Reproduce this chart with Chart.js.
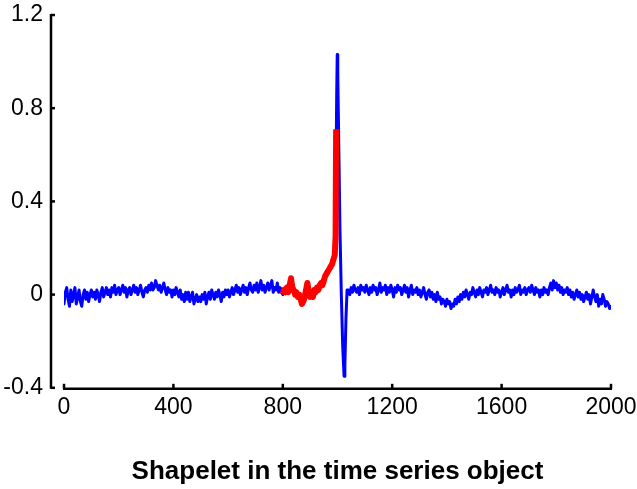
<!DOCTYPE html>
<html>
<head>
<meta charset="utf-8">
<script src="https://cdn.jsdelivr.net/npm/chart.js@4/dist/chart.umd.min.js"></script>
<style>
  html, body { margin: 0; padding: 0; background: #fff; }
  #wrap { width: 637px; height: 489px; }
</style>
</head>
<body>
<div id="wrap"><canvas id="c" width="637" height="489"></canvas></div>
<script>
// Time series: samples every 5 steps from 0 to 980
const headValues = [
  -0.04, 0.01, 0.03, -0.02, -0.05, 0.02, -0.03, 0.00, 0.03, -0.04,
  -0.01, 0.02, -0.03, -0.05, 0.00, 0.02, -0.02, 0.01, -0.03, 0.00,
  0.02, -0.01, 0.01, -0.02, 0.02, 0.00, -0.03, 0.01, 0.03, -0.01,
  0.01, 0.03, 0.00, 0.02, -0.01, 0.03, 0.01, 0.04, 0.00, 0.02,
  0.03, 0.00, 0.02, 0.04, 0.01, 0.03, -0.01, 0.02, 0.03, 0.00,
  0.02, 0.04, 0.01, 0.03, 0.00, 0.02, 0.04, 0.01, -0.01, 0.02,
  0.03, 0.01, 0.04, 0.02, 0.05, 0.02, 0.03, 0.06, 0.04, 0.02,
  0.04, 0.01, 0.03, 0.05, 0.02, 0.00, 0.03, 0.01, 0.02, -0.01,
  0.02, 0.00, 0.03, 0.01, -0.01, 0.02, -0.02, 0.00, -0.03, 0.01,
  -0.02, 0.01, -0.03, -0.01, 0.01, -0.04, -0.02, 0.00, -0.03, -0.01,
  -0.03, 0.00, -0.02, 0.01, -0.04, -0.01, 0.01, -0.02, 0.02, 0.00,
  -0.02, 0.01, -0.01, 0.02, 0.00, -0.03, 0.01, -0.01, 0.02, 0.00,
  0.02, -0.01, 0.01, 0.03, 0.00, 0.02, 0.04, 0.01, 0.03, 0.00,
  0.02, 0.04, 0.01, 0.03, 0.00, 0.03, 0.05, 0.02, 0.01, 0.04,
  0.02, 0.05, 0.01, 0.03, 0.06, 0.02, 0.04, 0.01, 0.03, 0.05,
  0.02, 0.04, 0.06, 0.01, 0.03, 0.02, 0.05, 0.01, 0.03, 0.02,
  0.00, 0.02, 0.01, 0.03, 0.01, 0.04, 0.06, 0.03, 0.02, 0.00,
  0.01, -0.01, 0.00, -0.02, -0.04, -0.03, -0.01, 0.02, 0.04, 0.01,
  -0.01, 0.00, -0.01, 0.02, 0.01, 0.03, 0.02, 0.04, 0.05, 0.04,
  0.06, 0.08, 0.09, 0.10, 0.11, 0.12, 0.13
];
// The sharp peak and dip around t = 1000
const spikeTimes  = [985, 990, 994, 997, 999, 1001, 1004, 1009, 1014, 1019, 1024, 1027, 1031, 1035];
const spikeValues = [0.15, 0.19, 0.45, 0.85, 1.03, 0.95, 0.70, 0.28, 0.00, -0.22, -0.35, -0.30, -0.10, 0.02];
// Samples every 5 steps from 1040 to 2000
const tailValues = [
  0.02, 0.00, 0.03, 0.01, 0.04, 0.02, 0.01, 0.03, 0.00, 0.04,
  0.02, 0.03, 0.01, 0.04, 0.02, 0.00, 0.03, 0.01, 0.04, 0.02,
  0.03, 0.00, 0.02, 0.05, 0.01, 0.03, 0.02, 0.04, 0.00, 0.03,
  0.01, 0.04, 0.02, -0.01, 0.03, 0.01, 0.04, 0.02, 0.03, 0.00,
  0.02, 0.04, 0.01, 0.03, -0.01, 0.02, 0.04, 0.00, 0.02, 0.01,
  0.03, 0.00, 0.02, -0.01, 0.01, 0.03, 0.00, -0.02, 0.01, 0.02,
  -0.01, 0.01, -0.02, 0.00, -0.03, 0.01, -0.02, -0.01, -0.04, -0.02,
  -0.03, -0.05, -0.02, -0.04, -0.03, -0.06, -0.04, -0.05, -0.02, -0.04,
  -0.01, -0.03, 0.00, -0.02, 0.01, -0.01, 0.02, 0.00, -0.02, 0.01,
  0.00, 0.03, 0.01, -0.01, 0.02, 0.00, 0.03, 0.01, -0.01, 0.02,
  0.01, 0.03, 0.00, 0.02, 0.04, 0.01, 0.02, 0.00, 0.03, 0.01,
  0.02, -0.01, 0.01, 0.03, 0.00, 0.02, 0.04, 0.01, 0.02, -0.01,
  0.02, 0.00, 0.03, 0.01, 0.02, 0.04, 0.00, 0.02, 0.01, 0.03,
  0.00, 0.02, 0.03, 0.01, 0.04, 0.02, 0.00, 0.03, 0.01, 0.02,
  -0.01, 0.02, 0.00, 0.03, 0.01, 0.02, 0.00, 0.03, 0.05, 0.02,
  0.06, 0.03, 0.05, 0.02, 0.04, 0.01, 0.03, 0.00, 0.02, 0.01,
  0.03, 0.00, 0.02, -0.01, 0.01, -0.02, 0.00, 0.02, -0.01, 0.01,
  -0.02, 0.00, -0.03, -0.01, 0.01, -0.02, 0.00, -0.04, -0.01, 0.02,
  -0.01, -0.03, 0.00, -0.05, -0.02, -0.04, 0.00, -0.02, -0.05, -0.03,
  -0.04, -0.06, -0.05
];
// Shapelet: samples every 5 steps from 800 to 990, then the final rise
const shapeletTimes = [
  800, 805, 810, 815, 820, 825, 830, 835, 840, 845, 850, 855, 860, 865, 870, 875,
  880, 885, 890, 895, 900, 905, 910, 915, 920, 925, 930, 935, 940, 945, 950, 955,
  960, 965, 970, 975, 980, 985, 990, 993, 995
];
const shapeletValues = [
  0.00, 0.02, 0.01, 0.03, 0.01, 0.04, 0.07, 0.03, 0.02, 0.00, 0.01, -0.01, 0.00, -0.02, -0.04, -0.03,
  -0.01, 0.02, 0.05, 0.01, -0.01, 0.00, -0.01, 0.02, 0.01, 0.03, 0.02, 0.04, 0.05, 0.04, 0.06, 0.08,
  0.09, 0.10, 0.11, 0.12, 0.13, 0.15, 0.17, 0.25, 0.71
];
const xTicks = [0, 400, 800, 1200, 1600, 2000];
const yTicks = [-0.4, 0, 0.4, 0.8, 1.2];
const titleText = 'Shapelet in the time series object';

const seriesPoints = [];
headValues.forEach((v, i) => seriesPoints.push({ x: i * 5, y: v }));
spikeTimes.forEach((t, i) => seriesPoints.push({ x: t, y: spikeValues[i] }));
tailValues.forEach((v, i) => seriesPoints.push({ x: 1040 + i * 5, y: v }));
const shapeletPoints = shapeletTimes.map((t, i) => ({ x: t, y: shapeletValues[i] }));

const FONT = "'Liberation Sans', Arial, Helvetica, sans-serif";

// Detached axis lines with short inward tick marks
const axisLines = {
  id: 'axisLines',
  afterDraw(chart) {
    const { ctx, chartArea, scales } = chart;
    const xs = scales.x, ys = scales.y;
    ctx.save();
    ctx.strokeStyle = '#000';
    ctx.lineWidth = 2.5;
    ctx.lineCap = 'butt';
    // y axis, shifted left of the plot
    const ax = chartArea.left - 13;
    const yTop = ys.getPixelForValue(yTicks[yTicks.length - 1]);
    const yBot = ys.getPixelForValue(yTicks[0]);
    ctx.beginPath();
    ctx.moveTo(ax, yTop - 1);
    ctx.lineTo(ax, yBot + 1);
    ctx.stroke();
    yTicks.forEach(v => {
      const p = ys.getPixelForValue(v);
      ctx.beginPath();
      ctx.moveTo(ax, p);
      ctx.lineTo(ax + 4, p);
      ctx.stroke();
    });
    // x axis along the bottom
    const ay = chartArea.bottom + 1;
    const xL = xs.getPixelForValue(xTicks[0]);
    const xR = xs.getPixelForValue(xTicks[xTicks.length - 1]);
    ctx.beginPath();
    ctx.moveTo(xL - 1, ay);
    ctx.lineTo(xR + 1, ay);
    ctx.stroke();
    xTicks.forEach(v => {
      const p = xs.getPixelForValue(v);
      ctx.beginPath();
      ctx.moveTo(p, ay);
      ctx.lineTo(p, ay - 5);
      ctx.stroke();
    });
    ctx.restore();
  }
};

new Chart(document.getElementById('c'), {
  type: 'line',
  data: {
    datasets: [
      {
        label: 'Shapelet',
        data: shapeletPoints,
        borderColor: '#ff0000',
        borderWidth: 6,
        pointRadius: 0,
        tension: 0,
        borderJoinStyle: 'round',
        borderCapStyle: 'butt',
        order: 0
      },
      {
        label: 'Time series',
        data: seriesPoints,
        borderColor: '#0000ff',
        borderWidth: 3,
        pointRadius: 0,
        tension: 0,
        borderJoinStyle: 'round',
        borderCapStyle: 'round',
        order: 1
      }
    ]
  },
  options: {
    responsive: false,
    animation: false,
    devicePixelRatio: 1,
    layout: { padding: { left: 4, right: 26, top: 15, bottom: 0 } },
    plugins: {
      legend: { display: false },
      tooltip: { enabled: false },
      title: {
        display: true,
        position: 'bottom',
        fullSize: false,
        text: titleText,
        color: '#000',
        font: { family: FONT, size: 26, weight: 'bold' },
        padding: { top: 28, bottom: 2 }
      }
    },
    scales: {
      x: {
        type: 'linear',
        min: 0,
        max: 2000,
        afterBuildTicks: s => { s.ticks = xTicks.map(v => ({ value: v })); },
        afterFit: s => { s.height = 40; s.paddingLeft = 0; s.paddingRight = 0; },
        grid: { display: false, drawTicks: false },
        border: { display: false },
        ticks: {
          color: '#000',
          font: { family: FONT, size: 23 },
          padding: 6,
          maxRotation: 0,
          autoSkip: false,
          callback: v => String(v)
        }
      },
      y: {
        type: 'linear',
        min: -0.4,
        max: 1.2,
        afterBuildTicks: s => { s.ticks = yTicks.map(v => ({ value: v })); },
        afterFit: s => { s.width = 60; s.paddingTop = 0; s.paddingBottom = 0; },
        grid: { display: false, drawTicks: false },
        border: { display: false },
        ticks: {
          color: '#000',
          font: { family: FONT, size: 23 },
          padding: 21,
          autoSkip: false,
          callback: v => String(Math.round(v * 10) / 10)
        }
      }
    }
  },
  plugins: [axisLines]
});
</script>
</body>
</html>
